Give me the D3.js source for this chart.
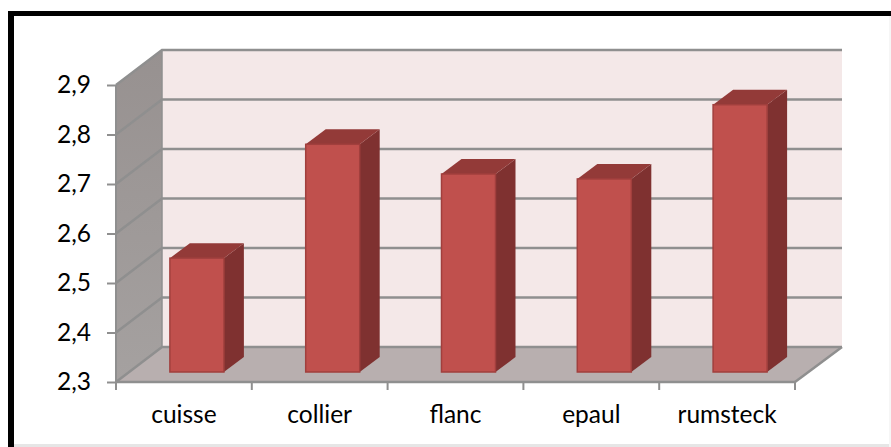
<!DOCTYPE html>
<html><head><meta charset="utf-8">
<script src="https://cdn.jsdelivr.net/npm/d3@7/dist/d3.min.js"></script>
<style>html,body{margin:0;padding:0;background:#fff}svg{display:block}text{font-family:Lato,"Open Sans",sans-serif;fill:#000}</style>
</head><body><svg id="chart" width="891" height="447"></svg>
<script>
const categories = ["cuisse", "collier", "flanc", "epaul", "rumsteck"];
const seriesValues = [2.53, 2.76, 2.70, 2.69, 2.84];
const tickValues = [2.3, 2.4, 2.5, 2.6, 2.7, 2.8, 2.9];

const svg = d3.select("#chart");
const frontLeft = 116, frontRight = 795, frontBase = 382, frontTop = 85;
const depthX = 46, depthY = 35;
const y = d3.scaleLinear().domain([2.3, 2.9]).range([frontBase, frontTop]);
const x = d3.scaleBand().domain(categories).range([frontLeft, frontRight]);
const fmt = v => v.toFixed(1).replace(".", ",");
const pts = a => a.map(p => p.join(",")).join(" ");
const poly = (a, fill) => svg.append("polygon").attr("points", pts(a)).attr("fill", fill);
const lineColor = "#8f8f8f";

// Chart frame: soft grey outer edges, heavy black top and left
svg.append("rect").attr("x", 14).attr("y", 16).attr("width", 877).attr("height", 429).attr("fill", "#fff");
svg.append("rect").attr("x", 14).attr("y", 444).attr("width", 877).attr("height", 3).attr("fill", "#e6e6e6");
svg.append("rect").attr("x", 889).attr("y", 16).attr("width", 2).attr("height", 431).attr("fill", "#f6f6f6");
svg.append("rect").attr("x", 8).attr("y", 11).attr("width", 883).attr("height", 5).attr("fill", "#000");
svg.append("rect").attr("x", 8).attr("y", 11).attr("width", 6).attr("height", 436).attr("fill", "#000");

// Back wall
const backL = frontLeft + depthX, backR = frontRight + depthX + 1;
poly([[backL, y(2.9) - depthY], [backR, y(2.9) - depthY], [backR, frontBase - depthY], [backL, frontBase - depthY]], "#f4e8e8");

// Side wall
const sideGrad = svg.append("defs").append("linearGradient").attr("id", "side")
  .attr("x1", 0).attr("y1", 0).attr("x2", 0).attr("y2", 1);
sideGrad.append("stop").attr("offset", 0).attr("stop-color", "#979190");
sideGrad.append("stop").attr("offset", 1).attr("stop-color", "#a5a1a0");
poly([[frontLeft, y(2.9)], [backL, y(2.9) - depthY], [backL, frontBase - depthY], [frontLeft, frontBase]], "url(#side)");

// Floor
poly([[frontLeft, frontBase], [backL, frontBase - depthY], [backR, frontBase - depthY], [frontRight, frontBase]], "#b8afaf");

// Gridlines running along the side wall and back wall
tickValues.forEach(t => {
  const yy = y(t);
  svg.append("polyline").attr("fill", "none").attr("stroke", lineColor).attr("stroke-width", 2.5)
    .attr("points", pts([[frontLeft, yy], [backL, yy - depthY], [backR, yy - depthY]]));
});
svg.append("line").attr("x1", backL).attr("x2", backL).attr("y1", y(2.9) - depthY).attr("y2", frontBase - depthY)
  .attr("stroke", lineColor).attr("stroke-width", 1.5);
svg.append("line").attr("x1", frontRight).attr("y1", frontBase).attr("x2", backR).attr("y2", frontBase - depthY)
  .attr("stroke", lineColor).attr("stroke-width", 2.5);
svg.append("line").attr("x1", frontLeft).attr("x2", frontLeft).attr("y1", y(2.9)).attr("y2", frontBase)
  .attr("stroke", lineColor).attr("stroke-width", 2);

// Value axis
const yAxis = svg.append("g").attr("transform", `translate(${frontLeft},0)`)
  .call(d3.axisLeft(y).tickValues(tickValues).tickFormat(fmt).tickSize(9).tickPadding(16));
yAxis.select(".domain").remove();
yAxis.selectAll("line").attr("stroke", lineColor).attr("stroke-width", 2);
yAxis.selectAll("text").attr("font-size", 24.5).style("font-family", "Lato");

// Category axis
const xAxis = svg.append("g").attr("transform", `translate(0,${frontBase})`)
  .call(d3.axisBottom(x).tickSize(0).tickPadding(24));
xAxis.select(".domain").attr("stroke", lineColor).attr("stroke-width", 2.5).attr("d", `M${frontLeft},0H${frontRight}`);
xAxis.selectAll("text").attr("font-size", 24.5).style("font-family", "Lato");
xAxis.selectAll("line").remove();
const edges = categories.map(c => x(c)).concat([frontRight]);
xAxis.selectAll("line.edge").data(edges).join("line").attr("class", "edge")
  .attr("x1", d => d).attr("x2", d => d).attr("y1", 0).attr("y2", 8)
  .attr("stroke", lineColor).attr("stroke-width", 2);

// Bars, each one a front face, a top and a side
const barW = 54, barDX = 20, barDY = 15, baseLift = 10, baseShift = 13;
const rise = frontBase - baseLift;
const barTop = v => y(v) - baseLift;
const grp = svg.append("g").selectAll("g").data(categories.map((c, i) => ({ c, v: seriesValues[i] }))).join("g");
grp.each(function (d) {
  const g = d3.select(this);
  const l = x(d.c) + x.bandwidth() / 2 + baseShift - barW / 2, r = l + barW, t = barTop(d.v);
  const face = (a, fill) => g.append("polygon").attr("points", pts(a)).attr("fill", fill);
  face([[r, t], [r + barDX, t - barDY], [r + barDX, rise - barDY], [r, rise]], "#7f3130");
  face([[l, t], [l + barDX, t - barDY], [r + barDX, t - barDY], [r, t]], "#933a38");
  g.append("rect").attr("x", l).attr("y", t).attr("width", barW).attr("height", rise - t)
    .attr("fill", "#c0504d").attr("stroke", "#a13f3d").attr("stroke-width", 1.5);
});
</script></body></html>
